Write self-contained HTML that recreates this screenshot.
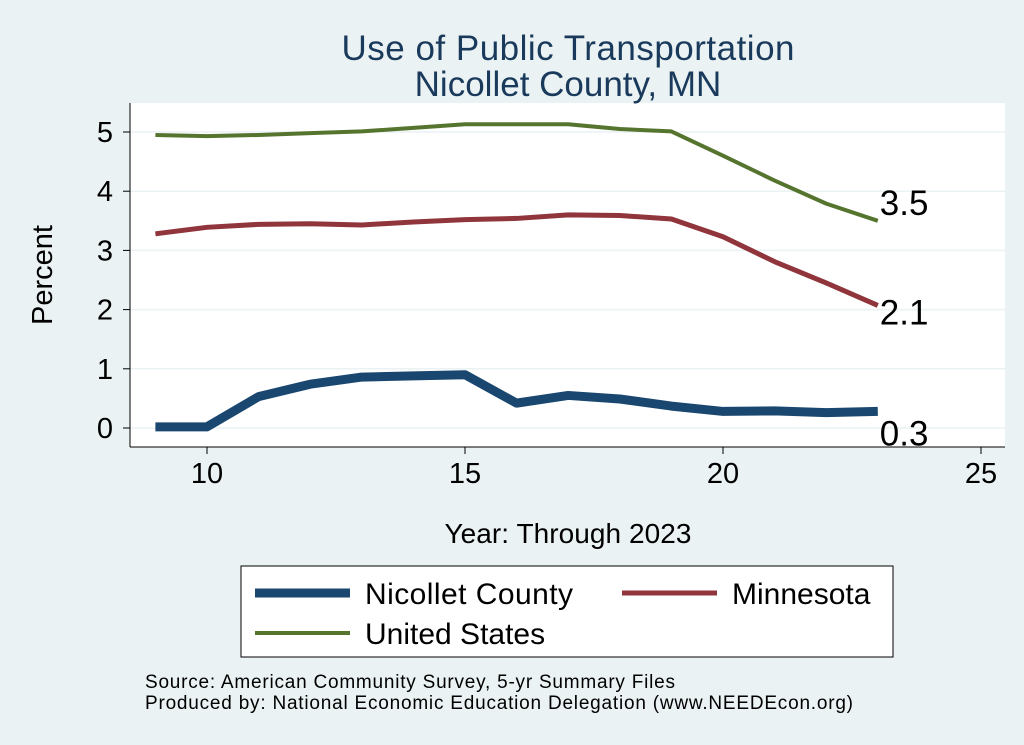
<!DOCTYPE html>
<html><head><meta charset="utf-8"><style>
body{margin:0;background:#eaf2f3;}
svg{display:block;font-family:"Liberation Sans",Arial,sans-serif;}
</style></head><body>
<svg width="1024" height="745">
<rect x="0" y="0" width="1024" height="745" fill="#eaf2f3"/>
<rect x="130" y="103" width="875" height="344" fill="#ffffff"/>
<text x="568" y="60" font-size="35" fill="#1a3a5c" text-anchor="middle" textLength="453">Use of Public Transportation</text>
<text x="568" y="96" font-size="35" fill="#1a3a5c" text-anchor="middle">Nicollet County, MN</text>
<g id="grid"></g>
<g id="axes"></g>
<g id="series"></g>
<text x="52" y="275" font-size="29" text-anchor="middle" transform="rotate(-90 52 275)">Percent</text>
<text x="568" y="543" font-size="28" text-anchor="middle" textLength="247">Year: Through 2023</text>
<g>
<rect x="241" y="566" width="652" height="91" fill="#fff" stroke="#000" stroke-width="1"/>
<line x1="255" y1="593" x2="350" y2="593" stroke="#1a476f" stroke-width="9"/>
<text x="365" y="604" font-size="30" textLength="208">Nicollet County</text>
<line x1="622" y1="593" x2="717" y2="593" stroke="#90353b" stroke-width="5"/>
<text x="732" y="604" font-size="30">Minnesota</text>
<line x1="255" y1="633" x2="350" y2="633" stroke="#55752f" stroke-width="4"/>
<text x="365" y="644" font-size="30">United States</text>
</g>
<text x="145" y="688" font-size="19" textLength="530">Source: American Community Survey, 5-yr Summary Files</text>
<text x="145" y="709" font-size="19" textLength="708">Produced by: National Economic Education Delegation (www.NEEDEcon.org)</text>
</svg>
<script>
const years=[9,10,11,12,13,14,15,16,17,18,19,20,21,22,23];
const usVals=[4.95,4.93,4.95,4.98,5.01,5.07,5.13,5.13,5.13,5.05,5.01,4.6,4.18,3.79,3.5];
const mnVals=[3.28,3.39,3.44,3.45,3.43,3.48,3.52,3.54,3.6,3.59,3.53,3.23,2.81,2.45,2.07];
const ncVals=[0.02,0.02,0.53,0.74,0.86,0.88,0.9,0.42,0.55,0.49,0.37,0.28,0.29,0.26,0.28];
const xTicks=[10,15,20,25];
const yTicks=[0,1,2,3,4,5];
const endLabels=["0.3","2.1","3.5"];
const NS="http://www.w3.org/2000/svg";
const X=v=>207+(v-10)*51.6;
const Y=v=>428-v*59.2;
function mk(tag,attrs,parent){const e=document.createElementNS(NS,tag);for(const k in attrs)e.setAttribute(k,attrs[k]);document.getElementById(parent).appendChild(e);return e;}
yTicks.forEach(t=>{
 const g=mk('line',{x1:130,x2:1005,y1:Y(t),y2:Y(t),stroke:'#eaf2f3','stroke-width':1.5},'grid');
 
 
 const tk=mk('line',{x1:123,x2:130,y1:Y(t),y2:Y(t),stroke:'#000'},'axes');
 
 
 const tx=mk('text',{x:113,y:Y(t)+10,'font-size':29,'text-anchor':'end'},'axes');tx.textContent=t;
 
 
});
xTicks.forEach(t=>{
 const tk=mk('line',{x1:X(t),x2:X(t),y1:447,y2:454,stroke:'#000'},'axes');
 
 
 const tx=mk('text',{x:X(t),y:483,'font-size':29,'text-anchor':'middle'},'axes');tx.textContent=t;
 
 
});
const ya=mk('line',{x1:130,x2:130,y1:103,y2:447,stroke:'#000'},'axes');


const xa=mk('line',{x1:130,x2:1005,y1:447,y2:447,stroke:'#000'},'axes');


const series=[[usVals,'#55752f',4,'us-line',endLabels[2],-6],[mnVals,'#90353b',5,'minnesota-line',endLabels[1],19],[ncVals,'#1a476f',9,'nicollet-line',endLabels[0],34]];
series.forEach(([vals,c,w,name,lab,dy])=>{
 const p=mk('polyline',{points:years.map((y,i)=>X(y)+','+Y(vals[i])).join(' '),fill:'none',stroke:c,'stroke-width':w,'stroke-linejoin':'round'},'series');
 
 
 const last=vals.length-1;
 const t=mk('text',{x:X(years[last])+2,y:Y(vals[last])+dy,'font-size':35},'series');t.textContent=lab;
 
 
});
</script>
</body></html>
